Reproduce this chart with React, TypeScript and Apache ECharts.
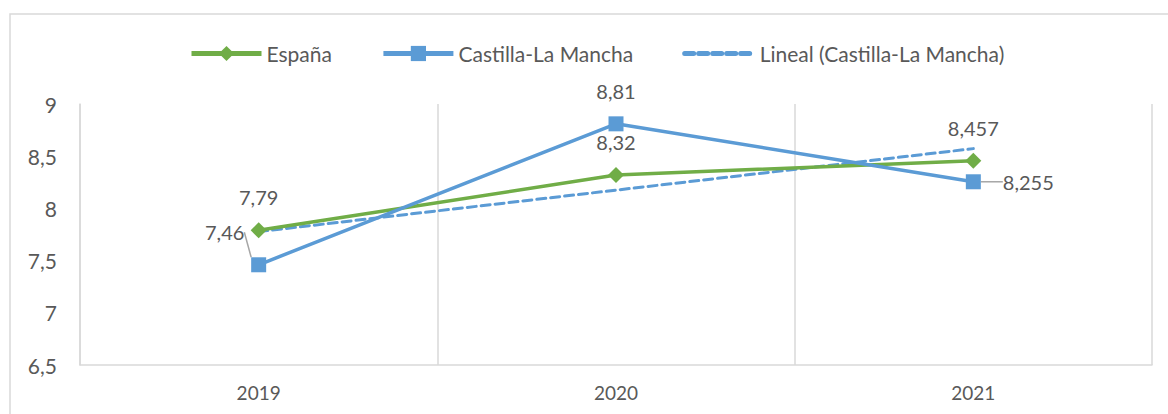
import React, { useEffect, useRef } from "react";
import * as echarts from "echarts";

const categories = ["2019", "2020", "2021"];
const espana = [7.79, 8.32, 8.457];
const castilla = [7.46, 8.81, 8.255];
const tendencia = [7.7775, 8.175, 8.5725];
const seriesNames = ["España", "Castilla-La Mancha", "Lineal (Castilla-La Mancha)"];

const FONT = "Lato, 'Open Sans', sans-serif";
const TXT = "#595959";
const GREEN = "#70ad47";
const BLUE = "#5b9bd5";
const fmt = (v: number) => String(v).replace(".", ",");

export default function App() {
  const ref = useRef<HTMLDivElement>(null);
  useEffect(() => {
    const chart = echarts.init(ref.current!, undefined, { renderer: "svg" });
    const castillaData = castilla.map((v, i) => {
      if (i === 0) return { value: v, labelLine: { show: true } };
      if (i === 2)
        return { value: v, label: { position: "right", distance: 22 }, labelLine: { show: true } };
      return { value: v, labelLine: { show: false } };
    });
    chart.setOption({
      animation: false,
      backgroundColor: "#ffffff",
      textStyle: { fontFamily: FONT },
      graphic: [
        {
          type: "rect",
          shape: { x: 10, y: 14, width: 1300, height: 500 },
          style: { fill: "none", stroke: "#d9d9d9", lineWidth: 1.5 },
          silent: true,
          z: -10,
        },
      ],
      legend: {
        data: [
          { name: seriesNames[0] },
          { name: seriesNames[1] },
          { name: seriesNames[2], itemStyle: { opacity: 0 } },
        ],
        left: 184,
        top: 38,
        itemWidth: 70,
        itemHeight: 19,
        itemGap: 49,
        lineStyle: { width: 5 },
        textStyle: { fontSize: 21, color: TXT, fontFamily: FONT },
      },
      grid: { left: 80, right: 16, top: 104, bottom: 49 },
      xAxis: {
        type: "category",
        data: categories,
        boundaryGap: true,
        axisLine: { lineStyle: { color: "#d9d9d9", width: 1.5 } },
        axisTick: { show: false },
        splitLine: { show: true, lineStyle: { color: "#d9d9d9", width: 1.5 } },
        axisLabel: { color: TXT, fontSize: 19, margin: 18, fontFamily: FONT },
      },
      yAxis: {
        type: "value",
        min: 6.5,
        max: 9,
        interval: 0.5,
        axisLine: { show: true, lineStyle: { color: "#d9d9d9", width: 1.5 } },
        axisTick: { show: false },
        splitLine: { show: false },
        axisLabel: { color: TXT, fontSize: 21, margin: 23, fontFamily: FONT, formatter: (v: number) => fmt(v) },
      },
      series: [
        {
          name: seriesNames[0],
          type: "line",
          data: espana,
          z: 3,
          symbol: "diamond",
          symbolSize: 16,
          itemStyle: { color: GREEN },
          lineStyle: { color: GREEN, width: 3.5 },
          label: {
            show: true,
            position: "top",
            distance: 15,
            fontSize: 20,
            color: TXT,
            fontFamily: FONT,
            formatter: (p: any) => fmt(p.value),
          },
        },
        {
          name: seriesNames[1],
          type: "line",
          data: castillaData,
          z: 4,
          symbol: "rect",
          symbolSize: 15,
          itemStyle: { color: BLUE },
          lineStyle: { color: BLUE, width: 3.5 },
          label: {
            show: true,
            position: "top",
            distance: 15,
            fontSize: 20,
            color: TXT,
            fontFamily: FONT,
            formatter: (p: any) => fmt(p.value),
          },
          labelLine: { show: false, lineStyle: { color: "#a6a6a6", width: 1.5 } },
          labelLayout: (params: any) => {
            if (params.dataIndex === 0) return { dx: -34, dy: 0 };
            return {};
          },
        },
        {
          name: seriesNames[2],
          type: "line",
          data: tendencia,
          z: 2,
          symbol: "none",
          silent: true,
          itemStyle: { color: BLUE },
          lineStyle: { color: BLUE, width: 3, type: [9, 5], cap: "round" },
        },
      ],
    });
    return () => chart.dispose();
  }, []);
  return <div ref={ref} style={{ position: "absolute", left: 0, top: 0, width: 1168, height: 414 }} />;
}
